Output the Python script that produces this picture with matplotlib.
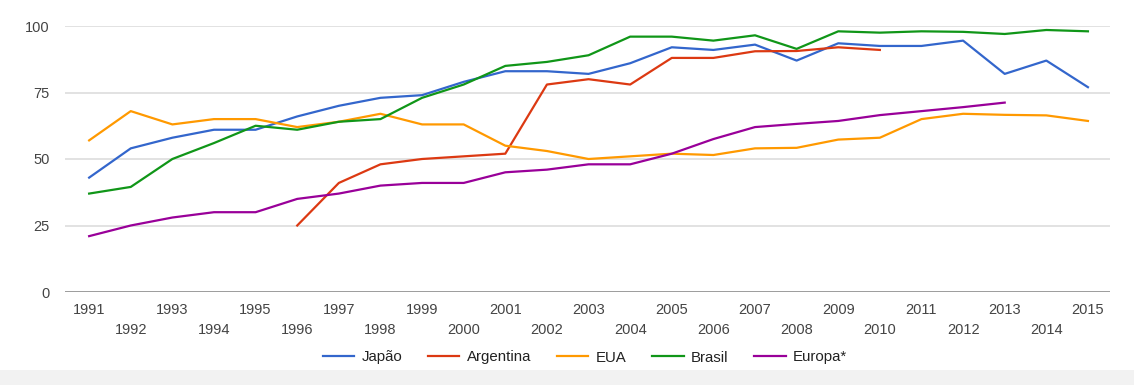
import matplotlib
matplotlib.use("Agg")
import matplotlib.pyplot as plt
from matplotlib.patches import Rectangle

plt.rcParams['font.family'] = ['Liberation Sans', 'DejaVu Sans']

years = list(range(1991, 2016))

japao = [43, 54, 58, 61, 61, 66, 70, 73, 74, 79, 83, 83, 82, 86, 92, 91, 93, 87,
         93.5, 92.5, 92.5, 94.5, 82, 87, 77]
argentina_years = list(range(1996, 2011))
argentina = [25, 41, 48, 50, 51, 52, 78, 80, 78, 88, 88, 90.5, 90.6, 92, 91]
eua = [57, 68, 63, 65, 65, 62, 64, 67, 63, 63, 55, 53, 50, 51, 52, 51.5, 54, 54.2,
       57.3, 58, 65, 67, 66.6, 66.4, 64.3]
brasil = [37, 39.5, 50, 56, 62.5, 61, 64, 65, 73, 78, 85, 86.5, 89, 96, 96, 94.5,
          96.5, 91.4, 98, 97.5, 98, 97.8, 97, 98.5, 98]
europa_years = list(range(1991, 2014))
europa = [21, 25, 28, 30, 30, 35, 37, 40, 41, 41, 45, 46, 48, 48, 52, 57.5, 62,
          63.2, 64.3, 66.5, 68, 69.5, 71.2]

series_names = ["Japão", "Argentina", "EUA", "Brasil", "Europa*"]
colors = ["#3366cc", "#dc3912", "#ff9900", "#109618", "#990099"]

fig = plt.figure(figsize=(11.34, 3.85), dpi=100)
ax = fig.add_axes([65/1134, 1-292/385, (1110-65)/1134, (292-26)/385])

data = [(years, japao), (argentina_years, argentina), (years, eua),
        (years, brasil), (europa_years, europa)]
handles = []
for (xs, ys), name, c in zip(data, series_names, colors):
    h, = ax.plot(xs, ys, color=c, lw=1.6, label=name, solid_joinstyle='round')
    handles.append(h)

ax.set_ylim(0, 100)
ax.set_xlim(1990.42, 2015.53)
ax.set_yticks([0, 25, 50, 75, 100])
ax.set_yticklabels(["0", "25", "50", "75", "100"])
ax.grid(axis='y', color='#dddddd', lw=1.2)
ax.set_axisbelow(True)
ax.axhline(0, color='#888888', lw=1.8, zorder=1)
for s in ax.spines.values():
    s.set_visible(False)

odd = [y for y in years if y % 2 == 1]
even = [y for y in years if y % 2 == 0]
ax.set_xticks(odd, [str(y) for y in odd])
ax.set_xticks(even, [str(y) for y in even], minor=True)
ax.tick_params(axis='x', which='major', length=0, pad=7.7, labelsize=10.5, labelcolor='#444444')
ax.tick_params(axis='x', which='minor', length=0, pad=22.5, labelsize=10.5, labelcolor='#444444')
ax.tick_params(axis='y', length=0, pad=11, labelsize=10.5, labelcolor='#444444')

fig.legend(handles=handles, loc='center', bbox_to_anchor=(585/1134, 1-357.5/385),
           ncol=5, frameon=False, fontsize=10.8, handlelength=2.1, handletextpad=0.5,
           columnspacing=1.7, labelcolor='#222222')

fig.patches.append(Rectangle((0, 0), 1, 15/385, transform=fig.transFigure,
                             facecolor='#f2f2f2', edgecolor='none', zorder=-1))

fig.savefig("out.png", dpi=100)
